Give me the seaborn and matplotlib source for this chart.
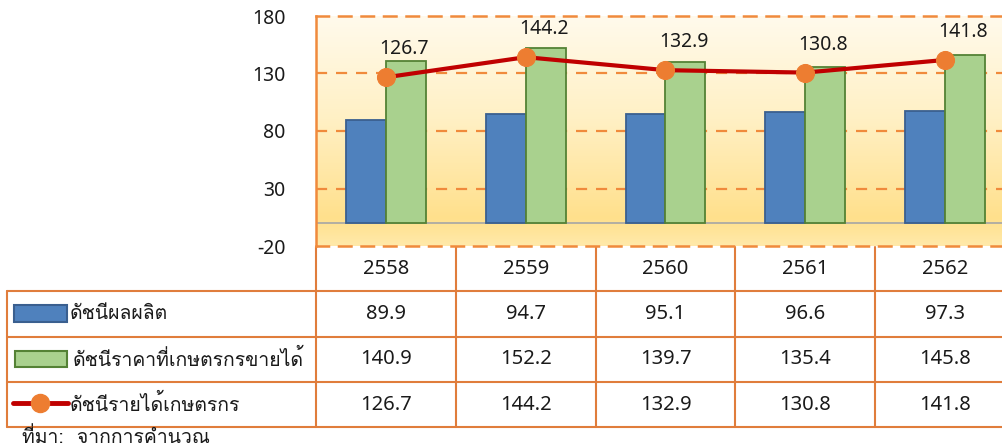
import numpy as np
import pandas as pd
import seaborn as sns
import matplotlib
matplotlib.use('Agg')
import matplotlib.pyplot as plt
from matplotlib.colors import LinearSegmentedColormap
from matplotlib.patches import Rectangle
from matplotlib.lines import Line2D
from matplotlib.transforms import blended_transform_factory

# data
years = ['2558', '2559', '2560', '2561', '2562']
production = [89.9, 94.7, 95.1, 96.6, 97.3]
price = [140.9, 152.2, 139.7, 135.4, 145.8]
income = [126.7, 144.2, 132.9, 130.8, 141.8]
row_labels = ['ดัชนีผลผลิต', 'ดัชนีราคาที่เกษตรกรขายได้', 'ดัชนีรายได้เกษตรกร']
yticks = [-20, 30, 80, 130, 180]
source = 'ที่มา:  จากการคำนวณ'

blue, blue_edge = '#4F81BD', '#3A5F8F'
green, green_edge = '#A9D18E', '#548235'
red, orange = '#C00000', '#ED7D31'
grid_c = '#F08A3C'
table_c = '#E07D3C'

sns.set_style('white')
plt.rcParams['font.family'] = ['Noto Sans Thai Looped', 'DejaVu Sans']
plt.rcParams['text.color'] = '#1A1A1A'
thai = ['Loma', 'Noto Sans Thai Looped', 'DejaVu Sans']  # Loma stacks tone marks

W, H = 1003, 447
fig = plt.figure(figsize=(W / 100, H / 100), dpi=100)
ax = fig.add_axes([316 / W, (H - 246) / H, 699 / W, 230 / H])

df = pd.DataFrame({
    'year': years * 2,
    'value': production + price,
    'series': [row_labels[0]] * 5 + [row_labels[1]] * 5,
})

# gradient background, light at top -> yellow near the base
grad = LinearSegmentedColormap.from_list(
    'bg', [(0, '#FFFAEC'), (0.45, '#FFF0C4'), (0.88, '#FFE08C'), (1, '#FFE9AA')])
ax.imshow(np.linspace(0, 1, 256).reshape(-1, 1), cmap=grad, aspect='auto',
          extent=(-0.5, 4.5, -20, 180), origin='upper', zorder=0)

for v in [30, 80, 130]:
    ax.axhline(v, color=grid_c, lw=1.6, ls=(0, (5, 4)), zorder=1)
ax.axhline(0, color='#A6A6A6', lw=1.2, zorder=1)

sns.barplot(data=df, x='year', y='value', hue='series', palette=[blue, green],
            width=0.572, gap=0, legend=False, ax=ax, zorder=2, saturation=1)
for cont, ec in zip(ax.containers, [blue_edge, green_edge]):
    for p in cont:
        p.set_edgecolor(ec)
        p.set_linewidth(1.3)

xpos = np.arange(len(years))
sns.lineplot(x=xpos, y=income, color=red, lw=3, marker='o', markersize=13,
             markerfacecolor=orange, markeredgecolor=orange, ax=ax, zorder=3)
for x, v in zip(xpos, income):
    ax.annotate(f'{v:.1f}', (x, v), xytext=(18, 28), textcoords='offset pixels',
                ha='center', va='center', fontsize=14, zorder=4)

ax.set_xlim(-0.5, 4.5)
ax.set_ylim(-20, 180)
ax.set_yticks(yticks)
ax.set_yticklabels([str(t) for t in yticks], fontsize=14, color='#1A1A1A')
ax.tick_params(axis='y', length=0, pad=22)
ax.set_xticks([])
ax.set_xlabel('')
ax.set_ylabel('')
ax.spines['left'].set_color(grid_c)
ax.spines['left'].set_linewidth(1.8)
for s in ['top', 'bottom']:
    ax.spines[s].set_color(grid_c)
    ax.spines[s].set_linewidth(1.8)
    ax.spines[s].set_linestyle((0, (5, 4)))
ax.spines['right'].set_visible(False)

# data table below the chart
tab = fig.add_axes([0, 0, 1, 1], zorder=-1)
tab.set_xlim(0, W)
tab.set_ylim(H, 0)
tab.axis('off')
bt = blended_transform_factory(ax.transData, tab.transData)

row_edges = [247, 291, 337, 382, 427]
for y in row_edges[1:]:
    tab.plot([7, W], [y, y], color=table_c, lw=1.5)
tab.plot([7, 7], [291, 427], color=table_c, lw=1.5)
for b in np.arange(-0.5, 4.6, 1):
    tab.plot([b, b], [247, 427], color=table_c, lw=1.5, transform=bt)

centers = [(a + b) / 2 for a, b in zip(row_edges[:-1], row_edges[1:])]
for x, yr, a, b, c in zip(xpos, years, production, price, income):
    tab.text(x, centers[0], yr, ha='center', va='center', fontsize=14.5, transform=bt)
    for yc, v in zip(centers[1:], [a, b, c]):
        tab.text(x, yc, f'{v:.1f}', ha='center', va='center', fontsize=14.5, transform=bt)

tab.add_patch(Rectangle((14, 305), 53, 17, facecolor=blue, edgecolor=blue_edge, lw=1.5))
tab.add_patch(Rectangle((15, 351), 52, 16, facecolor=green, edgecolor=green_edge, lw=1.5))
tab.add_line(Line2D([13, 68], [403, 403], color=red, lw=3.5))
tab.add_line(Line2D([40], [403], marker='o', markersize=13, color=orange))
tab.text(70, centers[1], row_labels[0], ha='left', va='center', fontsize=14, family=thai)
tab.text(73, centers[2], row_labels[1], ha='left', va='center', fontsize=14, family=thai)
tab.text(70, centers[3], row_labels[2], ha='left', va='center', fontsize=14, family=thai)
tab.text(22, 437, source, ha='left', va='center', fontsize=14, family=thai)

fig.savefig('out.png', dpi=100)
